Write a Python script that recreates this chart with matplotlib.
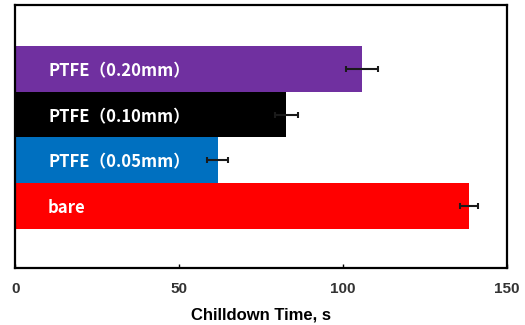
import matplotlib
matplotlib.use("Agg")
import matplotlib.pyplot as plt

labels = ["bare", "PTFE（0.05mm）", "PTFE（0.10mm）", "PTFE（0.20mm）"]
times = [138.4, 61.8, 82.7, 105.8]
errors = [2.8, 3.2, 3.4, 4.9]
colors = ["#FF0000", "#0070C0", "#000000", "#7030A0"]

fig = plt.figure(figsize=(5.25, 3.25), dpi=100)
ax = fig.add_axes([0.029, 0.175, 0.937, 0.81])

pos = range(len(labels))
ax.barh(pos, times, height=1.0, color=colors, xerr=errors,
        error_kw=dict(ecolor="#1a1a1a", elinewidth=1.5, capsize=2.5, capthick=1.5))

for p, lab in zip(pos, labels):
    ax.text(10, p - 0.05, lab, color="white", fontsize=12, fontweight="bold",
            va="center", ha="left", family=["Noto Sans CJK SC", "DejaVu Sans"])

ax.set_xlim(0, 150)
ax.set_ylim(-1.37, 4.41)
ax.set_xticks([0, 50, 100, 150])
ax.set_yticks([])
ax.tick_params(axis="x", direction="in", length=3, width=1, pad=10,
               labelsize=11, labelcolor="#333333")
for t in ax.get_xticklabels():
    t.set_fontweight("bold")
    t.set_family("Liberation Sans")
for s in ax.spines.values():
    s.set_linewidth(1.6)

ax.set_xlabel("Chilldown Time, s", fontsize=12, fontweight="bold",
              family="Liberation Sans", labelpad=8)

fig.savefig("out.png", dpi=100)
